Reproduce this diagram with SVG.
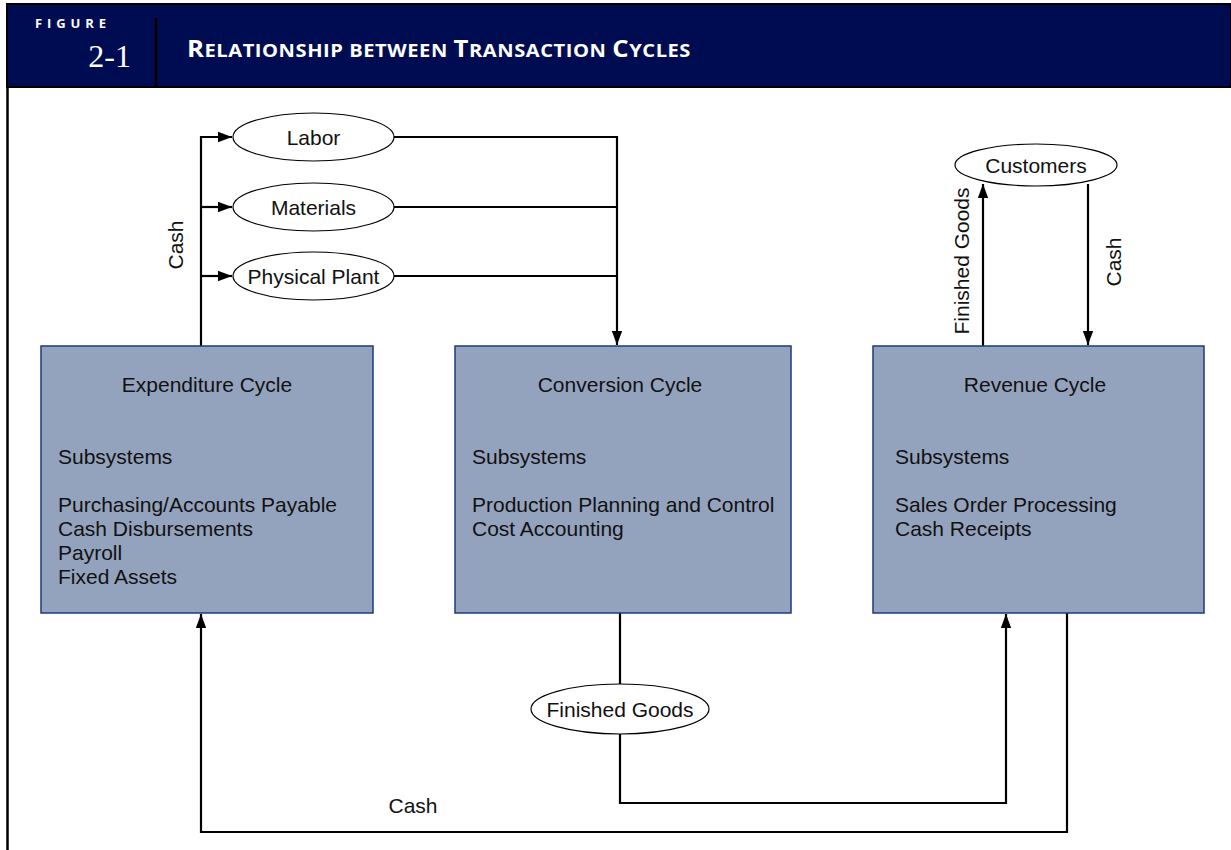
<svg xmlns="http://www.w3.org/2000/svg" width="1231" height="850" viewBox="0 0 1231 850">
<style>
  .box { fill: #94a3bd; stroke: #1f3a7a; stroke-width: 1.5; }
  .ell { fill: #ffffff; stroke: #000; stroke-width: 1.2; }
  .t { font-family: "Liberation Sans", Arial, sans-serif; font-size: 21px; fill: #111; }
  .c { text-anchor: middle; }
  .ln { fill: none; stroke: #000; stroke-width: 2.2; }
  .hd { font-family: "Open Sans", "Liberation Sans", sans-serif; font-weight: bold; fill: #fff; }
</style>
<defs>
  <marker id="arr" viewBox="0 0 10 10" refX="10" refY="5" markerWidth="6.5" markerHeight="6.5" markerUnits="strokeWidth" orient="auto">
    <path d="M0,1.3 L10,5 L0,8.7 Z" fill="#000"/>
  </marker>
</defs>
<rect x="0" y="0" width="1231" height="850" fill="#fff"/>
<g id="header">
  <rect x="7" y="4" width="1224" height="83" fill="#000c52" stroke="#000" stroke-width="2"/>
  <line x1="156" y1="18" x2="156" y2="86" stroke="#000" stroke-width="2.5"/>
  <text x="35" y="28" class="hd" font-size="13" letter-spacing="7" textLength="78">FIGURE</text>
  <text x="131" y="67" font-family="Liberation Serif, serif" font-size="32" fill="#fff" text-anchor="end">2-1</text>
  <text x="187" y="57" class="hd" font-size="18" letter-spacing="0.5" textLength="504" lengthAdjust="spacingAndGlyphs"><tspan font-size="23">R</tspan>ELATIONSHIP BETWEEN <tspan font-size="23">T</tspan>RANSACTION <tspan font-size="23">C</tspan>YCLES</text>
</g>
<line x1="7.5" y1="86" x2="7.5" y2="850" stroke="#000" stroke-width="2.5"/>
<g id="connectors">
  <path class="ln" d="M201,346 V137 H232" marker-end="url(#arr)"/>
  <path class="ln" d="M201,207 H232" marker-end="url(#arr)"/>
  <path class="ln" d="M201,276 H232" marker-end="url(#arr)"/>
  <path class="ln" d="M394,137 H617 V345" marker-end="url(#arr)"/>
  <path class="ln" d="M394,207 H617"/>
  <path class="ln" d="M394,276 H617"/>
  <path class="ln" d="M983,346 V184" marker-end="url(#arr)"/>
  <path class="ln" d="M1088,184 V345" marker-end="url(#arr)"/>
  <path class="ln" d="M620,613 V684"/>
  <path class="ln" d="M620,734 V803 H1006 V614" marker-end="url(#arr)"/>
  <path class="ln" d="M1067,613 V832 H201 V614" marker-end="url(#arr)"/>
  <text class="t c" transform="translate(183,245) rotate(-90)">Cash</text>
  <text class="t c" transform="translate(969,261) rotate(-90)">Finished Goods</text>
  <text class="t c" transform="translate(1121,262) rotate(-90)">Cash</text>
  <text class="t c" x="413" y="813">Cash</text>
</g>
<g id="labor"><ellipse class="ell" cx="313.5" cy="137" rx="80.5" ry="24"/><text class="t c" x="313.5" y="144.5">Labor</text></g>
<g id="materials"><ellipse class="ell" cx="313.5" cy="207" rx="80.5" ry="24"/><text class="t c" x="313.5" y="214.5">Materials</text></g>
<g id="plant"><ellipse class="ell" cx="313.5" cy="276" rx="80.5" ry="24"/><text class="t c" x="313.5" y="283.5">Physical Plant</text></g>
<g id="customers"><ellipse class="ell" cx="1036" cy="165" rx="81" ry="21"/><text class="t c" x="1036" y="172.5">Customers</text></g>
<g id="finished"><ellipse class="ell" cx="620" cy="709" rx="89" ry="25"/><text class="t c" x="620" y="716.5">Finished Goods</text></g>
<g id="expenditure">
  <rect class="box" x="41" y="346" width="332" height="267"/>
  <text class="t c" x="207" y="392">Expenditure Cycle</text>
  <text class="t" x="58" y="464">Subsystems</text>
  <text class="t" x="58" y="512">Purchasing/Accounts Payable</text>
  <text class="t" x="58" y="536">Cash Disbursements</text>
  <text class="t" x="58" y="560">Payroll</text>
  <text class="t" x="58" y="584">Fixed Assets</text>
</g>
<g id="conversion">
  <rect class="box" x="455" y="346" width="336" height="267"/>
  <text class="t c" x="620" y="392">Conversion Cycle</text>
  <text class="t" x="472" y="464">Subsystems</text>
  <text class="t" x="472" y="512">Production Planning and Control</text>
  <text class="t" x="472" y="536">Cost Accounting</text>
</g>
<g id="revenue">
  <rect class="box" x="873" y="346" width="331" height="267"/>
  <text class="t c" x="1035" y="392">Revenue Cycle</text>
  <text class="t" x="895" y="464">Subsystems</text>
  <text class="t" x="895" y="512">Sales Order Processing</text>
  <text class="t" x="895" y="536">Cash Receipts</text>
</g>
</svg>
